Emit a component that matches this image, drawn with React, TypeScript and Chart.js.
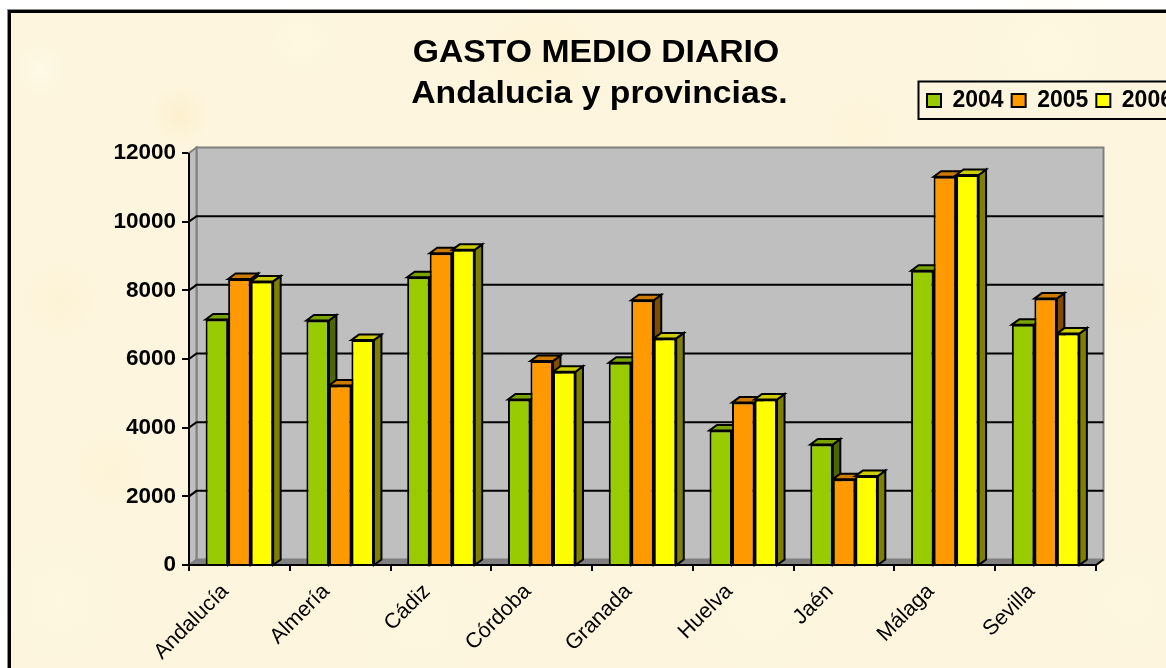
import React, { useEffect, useRef } from "react";
import { Chart, registerables } from "chart.js";

Chart.register(...registerables);

const categories = ["Andalucía", "Almería", "Cádiz", "Córdoba", "Granada", "Huelva", "Jaén", "Málaga", "Sevilla"];
const seriesNames = ["2004", "2005", "2006"];
const values2004 = [7150, 7120, 8380, 4820, 5890, 3920, 3510, 8570, 7000];
const values2005 = [8330, 5230, 9080, 5940, 7710, 4730, 2500, 11310, 7760];
const values2006 = [8260, 6550, 9180, 5630, 6600, 4820, 2590, 11360, 6740];
const yTicks = [0, 2000, 4000, 6000, 8000, 10000, 12000];
const titleLines = ["GASTO MEDIO DIARIO", "Andalucia y provincias."];

const DX = 7.5;
const DY = 5.5;
const FONT = "'Liberation Sans', Arial, sans-serif";
const frontColors = ["#99CC00", "#FF9900", "#FFFF00"];
const sideColors = ["#4D6600", "#804D00", "#808000"];
const topColors = ["#7AA300", "#CC7A00", "#CCCC00"];

const blobs: [number, number, number, string][] = [
  [180, 115, 30, "rgba(250,226,175,.3)"],
  [40, 70, 30, "rgba(255,255,238,.5)"],
  [540, 60, 60, "rgba(252,236,195,.25)"],
  [1050, 50, 90, "rgba(255,252,228,.4)"],
  [60, 300, 40, "rgba(250,232,190,.25)"],
  [110, 470, 40, "rgba(252,235,195,.25)"],
  [60, 600, 70, "rgba(255,250,228,.45)"],
  [420, 620, 80, "rgba(255,250,228,.4)"],
  [760, 610, 80, "rgba(255,250,228,.4)"],
  [1130, 300, 40, "rgba(252,238,205,.25)"],
  [1130, 600, 60, "rgba(255,250,228,.4)"],
  [300, 40, 40, "rgba(255,252,228,.5)"],
  [860, 130, 40, "rgba(252,238,205,.25)"],
];

const poly = (ctx: CanvasRenderingContext2D, pts: number[][], fill: string, stroke = "#000", lw = 2) => {
  ctx.beginPath();
  pts.forEach((p, i) => (i ? ctx.lineTo(p[0], p[1]) : ctx.moveTo(p[0], p[1])));
  ctx.closePath();
  ctx.fillStyle = fill;
  ctx.fill();
  if (lw > 0) {
    ctx.lineWidth = lw;
    ctx.strokeStyle = stroke;
    ctx.stroke();
  }
};

const stretchedTitle = (ctx: CanvasRenderingContext2D, text: string, cx: number, y: number) => {
  ctx.save();
  ctx.translate(cx, y);
  ctx.scale(1.105, 1);
  ctx.fillText(text, 0, 0);
  ctx.restore();
};

const scene = {
  id: "scene",
  afterLayout(chart: any) {
    const lg = chart.legend;
    if (!lg) return;
    lg.left = 919;
    lg.right = 2000;
    lg.top = 81;
  },
  beforeDraw(chart: any) {
    const ctx: CanvasRenderingContext2D = chart.ctx;
    ctx.save();
    ctx.fillStyle = "#fff";
    ctx.fillRect(0, 0, 1166, 668);
    ctx.fillStyle = "#FDF5DD";
    ctx.fillRect(8, 10, 1158, 658);
    blobs.forEach(([x, y, r, c]) => {
      const g = ctx.createRadialGradient(x, y, 0, x, y, r);
      g.addColorStop(0, c);
      g.addColorStop(1, c.replace(/[\d.]+\)$/, "0)"));
      ctx.fillStyle = g;
      ctx.fillRect(x - r, y - r, r * 2, r * 2);
    });
    ctx.fillStyle = "#8a8a8a";
    ctx.fillRect(8, 9, 1158, 1);
    ctx.fillRect(7, 9, 1, 659);
    ctx.fillStyle = "#000";
    ctx.fillRect(8, 10, 1158, 3);
    ctx.fillRect(8, 10, 3, 658);
    // legend frame
    ctx.lineWidth = 2;
    ctx.strokeStyle = "#000";
    ctx.strokeRect(918.5, 81.5, 300, 37.5);
    // titles
    ctx.fillStyle = "#000";
    ctx.font = `bold 30.5px ${FONT}`;
    ctx.textAlign = "center";
    ctx.textBaseline = "alphabetic";
    stretchedTitle(ctx, titleLines[0], 596, 62);
    stretchedTitle(ctx, titleLines[1], 599.5, 103);
    ctx.restore();
  },
  beforeDatasetsDraw(chart: any) {
    const ctx: CanvasRenderingContext2D = chart.ctx;
    const { left, right, top, bottom } = chart.chartArea;
    const y = chart.scales.y;
    ctx.save();
    // back wall, side wall, floor
    poly(ctx, [[left + DX, top - DY], [right + DX, top - DY], [right + DX, bottom - DY], [left + DX, bottom - DY]], "#BFBFBF", "#808080", 2);
    poly(ctx, [[left, top], [left + DX, top - DY], [left + DX, bottom - DY], [left, bottom]], "#BFBFBF", "#808080", 2);
    poly(ctx, [[left, bottom], [left + DX, bottom - DY], [right + DX, bottom - DY], [right, bottom]], "#808080", "#808080", 1);
    // gridlines on the wall
    yTicks.forEach((t) => {
      if (t === 0 || t === 12000) return;
      const py = y.getPixelForValue(t);
      ctx.beginPath();
      ctx.moveTo(left, py);
      ctx.lineTo(left + DX, py - DY);
      ctx.lineTo(right + DX, py - DY);
      ctx.strokeStyle = "#000";
      ctx.lineWidth = 2;
      ctx.stroke();
    });
    // axis lines
    ctx.beginPath();
    ctx.moveTo(left, top);
    ctx.lineTo(left, bottom);
    ctx.lineTo(right, bottom);
    ctx.lineTo(right + DX, bottom - DY);
    ctx.strokeStyle = "#000";
    ctx.lineWidth = 2;
    ctx.stroke();
    // bar tops and sides
    chart.data.datasets.forEach((_: any, di: number) => {
      chart.getDatasetMeta(di).data.forEach((bar: any) => {
        const hw = bar.width / 2;
        const l = bar.x - hw;
        const r = bar.x + hw;
        const t = bar.y;
        poly(ctx, [[r, t], [r + DX, t - DY], [r + DX, bottom - DY], [r, bottom]], sideColors[di]);
        poly(ctx, [[l, t], [l + DX, t - DY], [r + DX, t - DY], [r, t]], topColors[di]);
      });
    });
    ctx.restore();
  },
};

export default function App() {
  const ref = useRef<HTMLCanvasElement>(null);
  useEffect(() => {
    const data = [values2004, values2005, values2006];
    const chart = new Chart(ref.current as HTMLCanvasElement, {
      type: "bar",
      data: {
        labels: categories,
        datasets: seriesNames.map((name, i) => ({
          label: name,
          data: data[i],
          backgroundColor: frontColors[i],
          borderColor: "#000",
          borderWidth: 2,
          categoryPercentage: 0.67,
          barPercentage: 1,
        })),
      },
      plugins: [scene],
      options: {
        animation: false,
        responsive: false,
        events: [],
        layout: { padding: { left: 0, right: 70, top: 112, bottom: 0 } },
        plugins: {
          title: { display: false },
          tooltip: { enabled: false },
          legend: {
            display: true,
            position: "top",
            align: "start",
            labels: {
              boxWidth: 14,
              boxHeight: 13,
              padding: 8,
              color: "#000",
              font: { family: FONT, size: 23, weight: "bold" },
            },
          },
        },
        scales: {
          x: {
            afterFit(s: any) {
              s.height = 103;
            },
            grid: { display: true, drawOnChartArea: false, drawTicks: true, tickLength: 6, color: "#000", lineWidth: 2 },
            border: { display: false },
            ticks: {
              color: "#000",
              maxRotation: 45,
              minRotation: 45,
              padding: 8,
              labelOffset: -14,
              font: { family: FONT, size: 21.5 },
            },
          },
          y: {
            min: 0,
            max: 12000,
            afterFit(s: any) {
              s.width = 189;
            },
            afterBuildTicks(s: any) {
              s.ticks = yTicks.map((value) => ({ value }));
            },
            grid: { display: true, drawOnChartArea: false, drawTicks: true, tickLength: 7, color: "#000", lineWidth: 2 },
            border: { display: false },
            ticks: {
              color: "#000",
              padding: 6,
              callback: (v: any) => String(v),
              font: { family: FONT, size: 22.5, weight: "bold" },
            },
          },
        },
      },
    } as any);
    return () => chart.destroy();
  }, []);
  return (
    <div style={{ position: "fixed", left: 0, top: 0, width: 1166, height: 668, overflow: "hidden" }}>
      <canvas ref={ref} width={1166} height={668} style={{ display: "block" }} />
    </div>
  );
}
